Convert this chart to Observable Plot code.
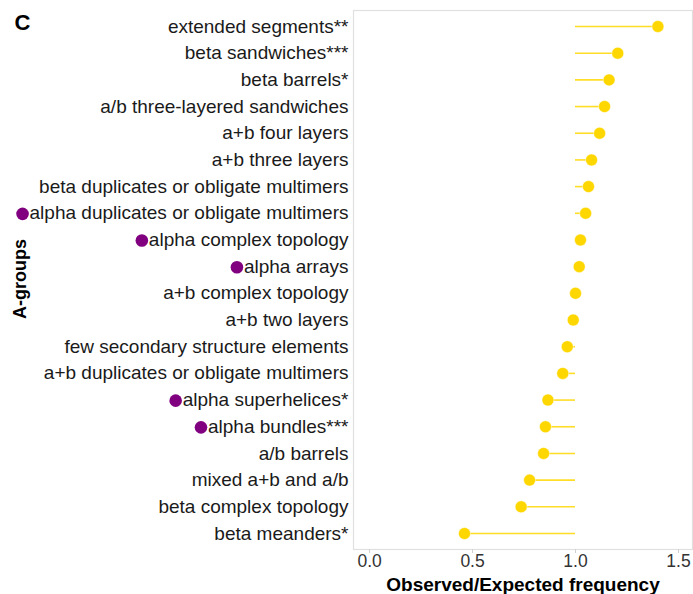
<!DOCTYPE html>
<html>
<head>
<meta charset="utf-8">
<script src="https://cdn.jsdelivr.net/npm/d3@7"></script>
<script src="https://cdn.jsdelivr.net/npm/@observablehq/plot@0.6"></script>
<style>
  html, body { margin: 0; padding: 0; background: #fff; }
  #chart { width: 693px; height: 594px; }
</style>
</head>
<body>
<div id="chart"></div>
<script>
const groups = [
  "extended segments**",
  "beta sandwiches***",
  "beta barrels*",
  "a/b three-layered sandwiches",
  "a+b four layers",
  "a+b three layers",
  "beta duplicates or obligate multimers",
  "alpha duplicates or obligate multimers",
  "alpha complex topology",
  "alpha arrays",
  "a+b complex topology",
  "a+b two layers",
  "few secondary structure elements",
  "a+b duplicates or obligate multimers",
  "alpha superhelices*",
  "alpha bundles***",
  "a/b barrels",
  "mixed a+b and a/b",
  "beta complex topology",
  "beta meanders*"
];
const ratios = [1.40, 1.205, 1.163, 1.141, 1.117, 1.078, 1.063, 1.049, 1.024, 1.018,
                1.000, 0.989, 0.960, 0.938, 0.866, 0.854, 0.845, 0.777, 0.736, 0.461];
const marked = [
  "alpha duplicates or obligate multimers",
  "alpha complex topology",
  "alpha arrays",
  "alpha superhelices*",
  "alpha bundles***"
];
const xTicks = [0, 0.5, 1.0, 1.5];
const baseline = 1;

const data = groups.map((g, i) => ({group: g, ratio: ratios[i]}));

const gold = "#FFD700";
const purple = "#800080";
const font = "'Liberation Sans', Arial, Helvetica, sans-serif";

const plot = Plot.plot({
  width: 693,
  height: 594,
  marginLeft: 353,
  marginRight: 1,
  marginTop: 10,
  marginBottom: 45,
  style: {fontFamily: font, background: "#fff", color: "#1a1a1a"},
  x: {domain: [-0.078, 1.568]},
  y: {type: "point", domain: groups, padding: 0.6, round: false},
  marks: [
    Plot.frame({stroke: "#e0e0e0", strokeWidth: 1.2}),
    Plot.axisX({ticks: xTicks, tickFormat: d3.format(".1f"), tickSize: 4, tickPadding: 1.5,
                fontSize: 17.5, stroke: "#d0d0d0", color: "#333", label: null}),
    Plot.axisY({tickSize: 0, tickPadding: 5, fontSize: 19, label: null, color: "#1a1a1a"}),
    Plot.ruleY(data, {y: "group", x1: baseline, x2: "ratio", stroke: gold, strokeWidth: 1.6, strokeOpacity: 0.85}),
    Plot.dot(data, {y: "group", x: "ratio", r: 6, fill: gold, stroke: "#fff", strokeWidth: 0.5}),
    Plot.text(["Observed/Expected frequency"], {frameAnchor: "bottom", dy: 35, lineAnchor: "middle", fontWeight: "bold", fontSize: 19, fill: "#000"}),
    Plot.text(["A-groups"], {frameAnchor: "left", dx: -333, dy: -1, rotate: -90, textAnchor: "middle", lineAnchor: "middle", fontWeight: "bold", fontSize: 18, fill: "#000"}),
    Plot.text(["C"], {frameAnchor: "top-left", dx: -339, dy: 12, textAnchor: "start", lineAnchor: "middle", fontWeight: "bold", fontSize: 22, fill: "#000"})
  ]
});

document.getElementById("chart").appendChild(plot);

// add purple markers to the left of the marked group labels
const yAxisTexts = Array.from(plot.querySelectorAll("g[aria-label='y-axis tick label'] text"));
yAxisTexts.forEach(t => {
  const label = t.textContent;
  if (!marked.includes(label)) return;
  const bb = t.getBBox();
  const ctm = t.getCTM();
  const svgCtm = plot.getCTM();
  const pt = plot.createSVGPoint();
  pt.x = bb.x; pt.y = bb.y + bb.height / 2;
  const m = svgCtm.inverse().multiply(ctm);
  const p = pt.matrixTransform(m);
  const c = document.createElementNS("http://www.w3.org/2000/svg", "circle");
  c.setAttribute("cx", p.x - 7);
  c.setAttribute("cy", p.y + 1);
  c.setAttribute("r", 6.3);
  c.setAttribute("fill", purple);
  plot.appendChild(c);
});
</script>
</body>
</html>
